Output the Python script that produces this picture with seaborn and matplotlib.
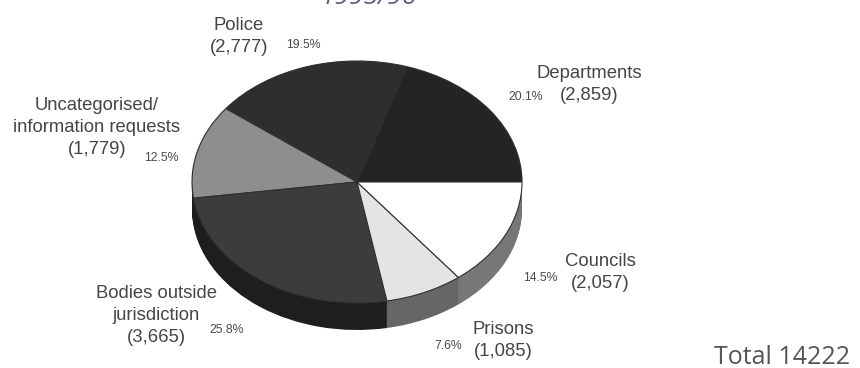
import matplotlib
matplotlib.use("Agg")
import matplotlib.pyplot as plt
import seaborn as sns

categories = ["Departments", "Police", "Uncategorised", "Bodies outside jurisdiction", "Prisons", "Councils"]
complaints = [2859, 2777, 1779, 3665, 1085, 2057]
top_colors = ["#242424", "#2e2e2e", "#8e8e8e", "#3c3c3c", "#e4e4e6", "#ffffff"]
side_colors = ["#1c1c1c", "#1c1c1c", "#1c1c1c", "#1e1e1e", "#666666", "#777777"]
labels = ["Departments\n(2,859)", "Police\n(2,777)", "Uncategorised/\ninformation requests\n(1,779)",
          "Bodies outside\njurisdiction\n(3,665)", "Prisons\n(1,085)", "Councils\n(2,057)"]
shares = ["20.1%", "19.5%", "12.5%", "25.8%", "7.6%", "14.5%"]
period = "1995/96"
total_note = "Total 14222"

W, H = 860, 368
sns.set_theme(style="white")
plt.rcParams["font.family"] = ["Liberation Sans", "DejaVu Sans"]
fig = plt.figure(figsize=(W / 100, H / 100), dpi=100)

# The axes span the full figure in pixel units, so the ellipse comes from the radii.
cx, cy, rx, ry, depth = 357, 182, 165, 121, 27
pie_left = (cx - 1.25 * rx) / W
pie_bottom = 1 - (cy + 1.25 * ry) / H
ax = fig.add_axes([pie_left, pie_bottom, 2.5 * rx / W, 2.5 * ry / H])

# Rim: stacked copies of the pie, shifted down, then the top face.
for step in range(depth, 0, -1):
    ax.pie(complaints, colors=side_colors, startangle=0, counterclock=True,
           center=(0, -step / ry), radius=1, wedgeprops={"linewidth": 0})
ax.pie(complaints, colors=top_colors, startangle=0, counterclock=True,
       center=(0, 0), radius=1, wedgeprops={"linewidth": 0.8, "edgecolor": "#303030"})
ax.set_xlim(-1.25, 1.25)
ax.set_ylim(-1.25, 1.25)
ax.set_aspect("auto")
ax.patch.set_visible(False)

overlay = fig.add_axes([0, 0, 1, 1])
overlay.set_xlim(0, W)
overlay.set_ylim(H, 0)
overlay.axis("off")

label_style = {"fontsize": 13.3, "color": "#454545", "ha": "center", "va": "center"}
share_style = {"fontsize": 8.8, "color": "#4a4a4a", "ha": "center", "va": "center"}
label_pos = [(589, 84), (239, 36), (97, 127), (156, 315), (503, 341), (600, 272)]
share_pos = [(526, 97), (303, 45), (161, 158), (227, 330), (448, 346), (540, 278)]
line_gap = 22
for text, share, lp, sp in zip(labels, shares, label_pos, share_pos):
    # Each label line is its own text, so a share can sit beside a short last line.
    rows = text.split("\n")
    for i, row in enumerate(rows):
        overlay.text(lp[0], lp[1] + (i - (len(rows) - 1) / 2) * line_gap, row, **label_style)
    overlay.text(sp[0], sp[1], share, **share_style)

overlay.text(368, 4, period, fontsize=19, color="#6b5a80", ha="center", va="baseline",
             family=["Open Sans", "DejaVu Sans"], style="italic")
overlay.text(782, 364, total_note, fontsize=18, color="#555555", ha="center", va="baseline",
             family=["Open Sans", "DejaVu Sans"])

fig.savefig("out.png", dpi=100, facecolor="white")
